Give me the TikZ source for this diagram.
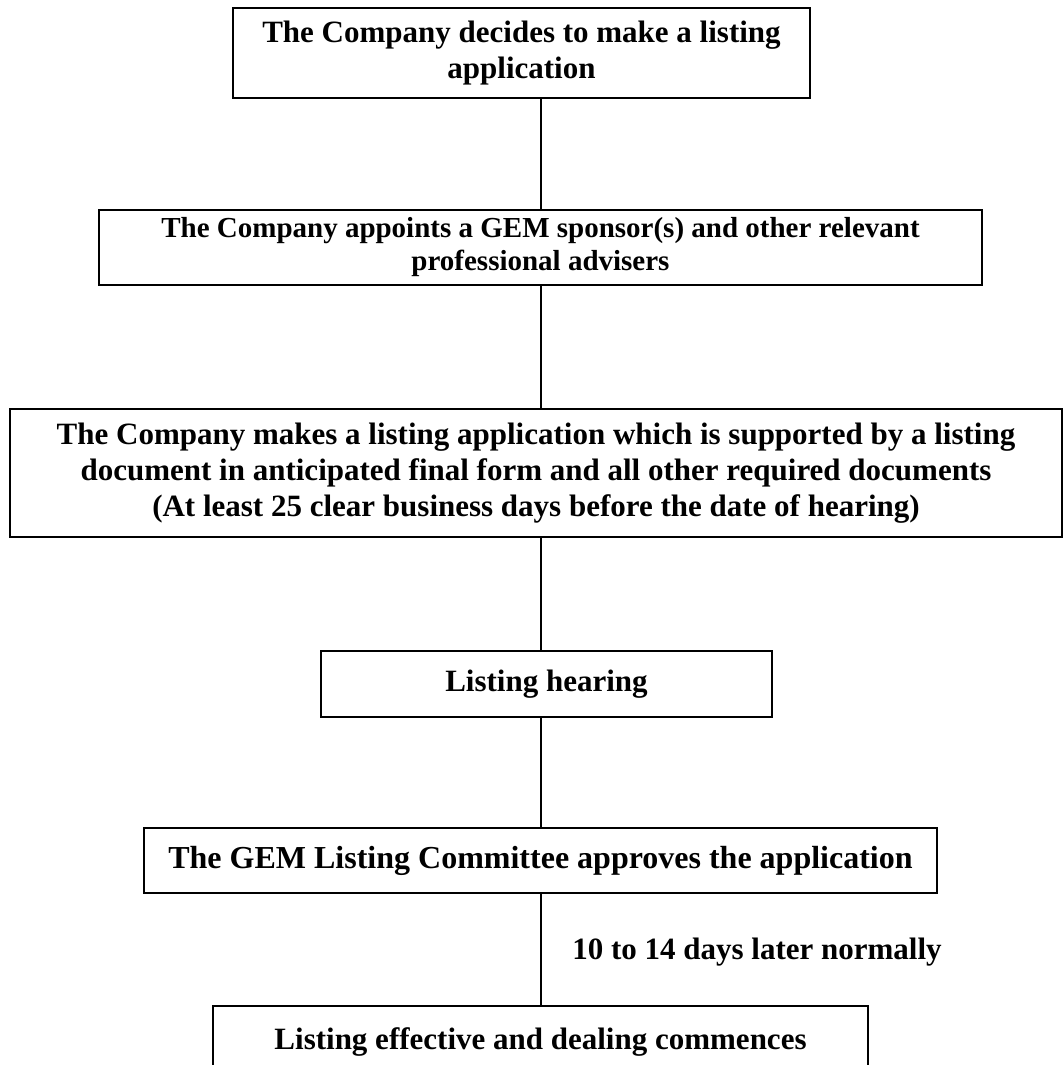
\documentclass[tikz,border=0pt]{standalone}
\usepackage{fontspec}
\setmainfont{Liberation Serif}
\usetikzlibrary{positioning}

\begin{document}
\begin{tikzpicture}[%
  x=0.5pt, y=-0.5pt,
  stage/.style={draw, line width=1pt, inner sep=0pt, align=center,
    font=\fontsize{15.5}{18}\selectfont\bfseries},
  smallstage/.style={stage, font=\fontsize{14.5}{16.5}\selectfont\bfseries},
  widestage/.style={stage, font=\fontsize{16}{18}\selectfont\bfseries},
  link/.style={line width=0.8pt}]

  \useasboundingbox (0,0) rectangle (1063,1065);
  \clip (0,0) rectangle (1063,1065);

  \coordinate (spine) at (541,0);

  \node[stage, minimum width=288.5pt, minimum height=45pt] (decide) at (521.5,53)
    {The Company decides to make a listing\\application};
  \node[smallstage, minimum width=441.5pt, minimum height=37.5pt] (appoint) at (540.5,247.5)
    {The Company appoints a GEM sponsor(s) and other relevant\\professional advisers};
  \node[stage, minimum width=526pt, minimum height=64pt] (apply) at (536,473)
    {The Company makes a listing application which is supported by a listing\\
     document in anticipated final form and all other required documents\\
     (At least 25 clear business days before the date of hearing)};
  \node[stage, minimum width=225.5pt, minimum height=33pt] (hearing) at (546.5,684)
    {Listing hearing};
  \node[widestage, minimum width=396.5pt, minimum height=32.5pt] (approve) at (540.5,860.5)
    {The GEM Listing Committee approves the application};
  \node[stage, minimum width=327.5pt, minimum height=36pt] (deal) at (540.5,1042)
    {Listing effective and dealing commences};

  \node[font=\fontsize{15.5}{18}\selectfont\bfseries, inner sep=0pt] (later) at (757,952)
    {10 to 14 days later normally};

  \draw[link] (decide.south -| spine) -- (appoint.north -| spine);
  \draw[link] (appoint.south -| spine) -- (apply.north -| spine);
  \draw[link] (apply.south -| spine) -- (hearing.north -| spine);
  \draw[link] (hearing.south -| spine) -- (approve.north -| spine);
  \draw[link] (approve.south -| spine) -- (deal.north -| spine);
\end{tikzpicture}
\end{document}
